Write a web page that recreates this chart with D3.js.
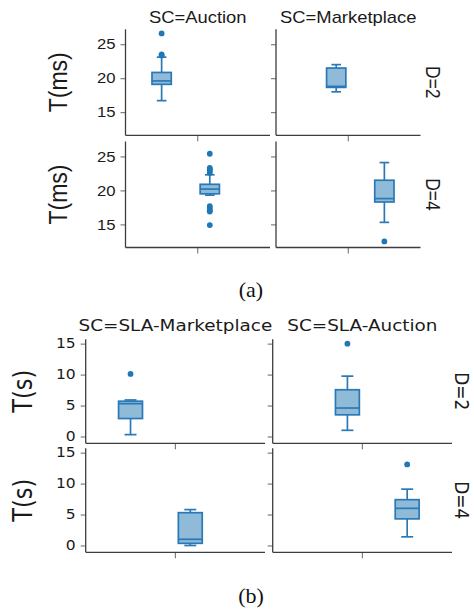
<!DOCTYPE html>
<html>
<head>
<meta charset="utf-8">
<script src="https://cdn.jsdelivr.net/npm/d3@7"></script>
<style>
  html, body { margin: 0; padding: 0; background: #fff; }
  svg { display: block; }
</style>
</head>
<body>
<svg id="chart" width="474" height="614"></svg>
<script>
// ---------- DATA: panel (a) ----------
const aColumns = ["SC=Auction", "SC=Marketplace"];
const aRows = ["D=2", "D=4"];
const aTicks = [15, 20, 25];
// facet order: [D=2 Auction, D=2 Marketplace, D=4 Auction, D=4 Marketplace]
const aHue = ["Auction|2", "Marketplace|2", "Auction|4", "Marketplace|4"];
const aWhiskerLow  = [16.7, 18.0, 19.3, 15.3];
const aQ1          = [19.1, 18.65, 19.5, 18.3];
const aMedian      = [19.6, 18.8, 20.2, 18.8];
const aQ3          = [20.85, 21.5, 20.9, 21.5];
const aWhiskerHigh = [23.1, 22.0, 22.3, 24.1];
const aOutliers    = [[23.35, 23.5, 26.6], [], [22.6, 22.9, 23.1, 23.3, 25.4, 17.7, 17.4, 17.1, 16.9, 14.9], [12.5]];

// ---------- DATA: panel (b) ----------
const bColumns = ["SC=SLA-Marketplace", "SC=SLA-Auction"];
const bRows = ["D=2", "D=4"];
const bTicks = [0, 5, 10, 15];
const bHue = ["SLA-Marketplace|2", "SLA-Auction|2", "SLA-Marketplace|4", "SLA-Auction|4"];
const bWhiskerLow  = [0.3, 1.0, 0.0, 1.4];
const bQ1          = [2.9, 3.5, 0.35, 4.3];
const bMedian      = [5.3, 4.6, 1.0, 6.0];
const bQ3          = [5.7, 7.55, 5.3, 7.4];
const bWhiskerHigh = [5.9, 9.75, 5.8, 9.1];
const bOutliers    = [[10.1], [15.0], [], [13.1]];

// ---------- STYLE ----------
const boxFill = "#8fbbd9";
const boxStroke = "#2a79b6";
const dotColor = "#1f77b4";
const axisColor = "#3d3d3d";
const tickColor = "#666";
const SX = 1.15; // horizontal stretch of the original figure

const svg = d3.select("#chart");

function stretchedText(g, x, y, rot, txt, font, size, anchor, baseline) {
  return g.append("text")
    .attr("transform", `translate(${x},${y}) scale(${SX},1) rotate(${rot})`)
    .attr("font-family", font)
    .attr("font-size", size)
    .attr("fill", "#1a1a1a")
    .attr("text-anchor", anchor)
    .attr("dominant-baseline", baseline || "auto")
    .text(txt);
}

function drawPanel(cfg) {
  const g = svg.append("g");
  const y = d3.scaleLinear().domain(cfg.yDomain).range([cfg.h, 0]);
  for (let r = 0; r < 2; r++) {
    for (let c = 0; c < 2; c++) {
      const i = r * 2 + c;
      const fx = cfg.lefts[c], fy = cfg.tops[r];
      const fg = g.append("g").attr("transform", `translate(${fx},${fy})`);
      // x: single category, hue dodge
      const xOuter = d3.scaleBand().domain(["all"]).range([0, cfg.w]).paddingOuter(0.1).paddingInner(0);
      const x0 = xOuter("all"), bw = xOuter.bandwidth();
      const xHue = d3.scaleBand().domain(cfg.hue).range([x0 + 0.1 * bw, x0 + 0.9 * bw]);
      const cx = xHue(cfg.hue[i]) + xHue.bandwidth() / 2;
      const boxW = xHue.bandwidth() * 0.8;
      const capW = boxW / 2;

      // y axis
      const yAxis = d3.axisLeft(y).tickValues(cfg.ticks).tickSize(5).tickPadding(5)
        .tickFormat(c === 0 ? d3.format("d") : () => "");
      const ya = fg.append("g").call(yAxis);
      ya.select(".domain").remove();
      ya.selectAll(".tick line").attr("stroke", tickColor).attr("stroke-width", 1);
      ya.selectAll(".tick text").each(function(d) {
        const t = d3.select(this);
        const ty = y(d);
        t.remove();
        if (c === 0) {
          stretchedText(fg, -10, ty, 0, d3.format("d")(d), cfg.font, cfg.tickSize, "end", "central");
        }
      });
      // x axis (single tick at centre)
      const xa = fg.append("g").attr("transform", `translate(0,${cfg.h})`)
        .call(d3.axisBottom(xOuter).tickSize(6).tickFormat(""));
      xa.select(".domain").remove();
      xa.selectAll(".tick line").attr("stroke", tickColor).attr("stroke-width", 1);

      // spines
      fg.append("line").attr("x1", 0).attr("x2", 0).attr("y1", 0).attr("y2", cfg.h)
        .attr("stroke", axisColor).attr("stroke-width", 1.3);
      fg.append("line").attr("x1", 0).attr("x2", cfg.w).attr("y1", cfg.h).attr("y2", cfg.h)
        .attr("stroke", axisColor).attr("stroke-width", 1.3);

      // box
      const bg = fg.append("g").attr("stroke", boxStroke).attr("stroke-width", 1.7);
      bg.append("line").attr("x1", cx).attr("x2", cx)
        .attr("y1", y(cfg.hi[i])).attr("y2", y(cfg.q3[i]));
      bg.append("line").attr("x1", cx).attr("x2", cx)
        .attr("y1", y(cfg.q1[i])).attr("y2", y(cfg.lo[i]));
      bg.append("line").attr("x1", cx - capW / 2).attr("x2", cx + capW / 2)
        .attr("y1", y(cfg.hi[i])).attr("y2", y(cfg.hi[i]));
      bg.append("line").attr("x1", cx - capW / 2).attr("x2", cx + capW / 2)
        .attr("y1", y(cfg.lo[i])).attr("y2", y(cfg.lo[i]));
      bg.append("rect").attr("x", cx - boxW / 2).attr("width", boxW)
        .attr("y", y(cfg.q3[i])).attr("height", y(cfg.q1[i]) - y(cfg.q3[i]))
        .attr("fill", boxFill);
      bg.append("line").attr("x1", cx - boxW / 2).attr("x2", cx + boxW / 2)
        .attr("y1", y(cfg.med[i])).attr("y2", y(cfg.med[i]));
      fg.selectAll("circle.out").data(cfg.out[i]).enter().append("circle")
        .attr("cx", cx).attr("cy", d => y(d)).attr("r", 2.9).attr("fill", dotColor);

      // column titles
      if (r === 0) {
        stretchedText(fg, cfg.w / 2, cfg.titleY - fy, 0, cfg.cols[c], cfg.font, cfg.titleSize, "middle");
      }
      // row labels
      if (c === 1) {
        stretchedText(g, cfg.rowLabX, fy + cfg.h / 2, 90, cfg.rows[r], cfg.font, cfg.rowSize, "middle", "central");
      }
      // y label
      if (c === 0) {
        stretchedText(g, cfg.yLabX, fy + cfg.h / 2, -90, cfg.yLabel, cfg.font, cfg.yLabSize, "middle", "central");
      }
    }
  }
  svg.append("text").attr("x", cfg.capX).attr("y", cfg.capY)
    .attr("font-family", "Liberation Serif, Times New Roman, serif")
    .attr("font-size", 22).attr("fill", "#111").attr("text-anchor", "middle")
    .text(cfg.caption);
}

drawPanel({
  font: "Liberation Sans, Arial, sans-serif",
  lefts: [125.5, 276], tops: [29.3, 141.5], w: 144.5, h: 106,
  yDomain: [11.6, 27.2], ticks: aTicks, hue: aHue, cols: aColumns, rows: aRows,
  lo: aWhiskerLow, q1: aQ1, med: aMedian, q3: aQ3, hi: aWhiskerHigh, out: aOutliers,
  tickSize: 14.5, titleSize: 16, titleY: 23, rowSize: 17.5, rowLabX: 433,
  yLabel: "T(ms)", yLabSize: 23, yLabX: 57.5,
  caption: "(a)", capX: 251, capY: 297
});
drawPanel({
  font: "DejaVu Sans, Verdana, sans-serif",
  lefts: [85.7, 272.7], tops: [339.3, 448.3], w: 179.3, h: 104,
  yDomain: [-1.1, 15.7], ticks: bTicks, hue: bHue, cols: bColumns, rows: bRows,
  lo: bWhiskerLow, q1: bQ1, med: bMedian, q3: bQ3, hi: bWhiskerHigh, out: bOutliers,
  tickSize: 13.5, titleSize: 16, titleY: 331, rowSize: 17, rowLabX: 462,
  yLabel: "T(s)", yLabSize: 22.5, yLabX: 22.5,
  caption: "(b)", capX: 251, capY: 603
});
</script>
</body>
</html>
